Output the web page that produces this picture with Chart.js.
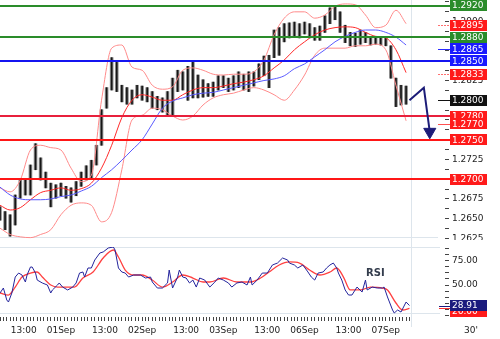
<!DOCTYPE html>
<html>
<head>
<meta charset="utf-8">
<title>Chart</title>
<script src="https://cdn.jsdelivr.net/npm/chart.js@4.4.1/dist/chart.umd.min.js"></script>
<style>
  html, body { margin:0; padding:0; background:#ffffff; }
  #wrap { position:relative; width:500px; height:339px; overflow:hidden; background:#fff; }
  #main { position:absolute; left:0; top:0; }
  #rsi { position:absolute; left:0; top:240px; }
</style>
</head>
<body>
<div id="wrap">
  <canvas id="main" width="500" height="240"></canvas>
  <canvas id="rsi" width="500" height="99"></canvas>
</div>
<script>
// ================= DATA =================
// price bars (30' bars, one entry every 3 bars), high / low
const BAR_STEP = 3;
const barHigh = [1.2665,1.2659,1.2655,1.2680,1.2699,1.2699,1.2718,1.2745,1.2727,1.2709,
 1.2695,1.2693,1.2695,1.2691,1.2689,1.2697,1.2709,1.2717,1.2724,1.2743,
 1.2788,1.2816,1.2854,1.2848,1.2819,1.2816,1.2813,1.2819,1.2818,1.2816,
 1.2811,1.2805,1.2803,1.2811,1.2828,1.2838,1.2836,1.2843,1.2848,1.2832,
 1.2826,1.2821,1.2823,1.2831,1.2831,1.2828,1.2831,1.2836,1.2833,1.2836,
 1.2836,1.2846,1.2856,1.2857,1.2889,1.2892,1.2897,1.2898,1.2899,1.2897,
 1.2899,1.2897,1.2892,1.2894,1.2907,1.2917,1.2919,1.2912,1.2895,1.2886,
 1.2885,1.2889,1.2886,1.2880,1.2880,1.2879,1.2879,1.2869,1.2828,1.2819,
 1.2818];
const barLow = [1.2648,1.2636,1.2628,1.2642,1.2676,1.2680,1.2680,1.2712,1.2699,1.2689,
 1.2665,1.2676,1.2679,1.2676,1.2671,1.2679,1.2691,1.2699,1.2702,1.2718,
 1.2743,1.2790,1.2813,1.2811,1.2798,1.2795,1.2795,1.2803,1.2800,1.2798,
 1.2790,1.2788,1.2785,1.2781,1.2781,1.2811,1.2813,1.2800,1.2803,1.2803,
 1.2804,1.2805,1.2805,1.2813,1.2816,1.2811,1.2813,1.2816,1.2813,1.2811,
 1.2818,1.2826,1.2831,1.2816,1.2854,1.2857,1.2874,1.2879,1.2881,1.2879,
 1.2884,1.2879,1.2876,1.2876,1.2886,1.2897,1.2902,1.2886,1.2873,1.2869,
 1.2868,1.2871,1.2873,1.2870,1.2871,1.2870,1.2869,1.2828,1.2792,1.2794,
 1.2795];

// Bollinger bands and moving average (one entry every 6 bars)
const BAND_STEP = 6;
const bandUpper = [1.2689,1.2684,1.2699,1.2737,1.2743,1.2740,1.2737,1.2714,1.2697,1.2705,
 1.2800,1.2866,1.2870,1.2842,1.2838,1.2819,1.2814,1.2817,1.2838,1.2841,
 1.2838,1.2833,1.2832,1.2833,1.2833,1.2836,1.2851,1.2883,1.2904,1.2912,
 1.2912,1.2904,1.2908,1.2919,1.2922,1.2921,1.2908,1.2892,1.2895,1.2914,
 1.2897];
const bandMid = [1.2667,1.2661,1.2664,1.2674,1.2683,1.2686,1.2689,1.2686,1.2688,1.2695,
 1.2714,1.2743,1.2778,1.2800,1.2807,1.2804,1.2800,1.2800,1.2807,1.2813,
 1.2816,1.2816,1.2818,1.2821,1.2823,1.2826,1.2831,1.2841,1.2851,1.2864,
 1.2874,1.2883,1.2889,1.2892,1.2893,1.2892,1.2886,1.2881,1.2879,1.2864,
 1.2835];
const bandLower = [1.2638,1.2630,1.2627,1.2626,1.2630,1.2636,1.2655,1.2667,1.2670,1.2667,
 1.2646,1.2658,1.2712,1.2775,1.2781,1.2790,1.2788,1.2780,1.2775,1.2780,
 1.2794,1.2803,1.2807,1.2809,1.2813,1.2816,1.2813,1.2807,1.2800,1.2813,
 1.2832,1.2857,1.2866,1.2866,1.2866,1.2869,1.2869,1.2871,1.2864,1.2819,
 1.2774];
const maLine = [1.2690,1.2680,1.2675,1.2674,1.2674,1.2675,1.2678,1.2680,1.2685,1.2691,
 1.2702,1.2712,1.2724,1.2737,1.2750,1.2770,1.2790,1.2799,1.2803,1.2807,
 1.2809,1.2810,1.2813,1.2816,1.2819,1.2822,1.2825,1.2827,1.2831,1.2840,
 1.2846,1.2855,1.2864,1.2874,1.2881,1.2886,1.2889,1.2889,1.2886,1.2880,
 1.2870];

// forecast arrow (bar index, price)
const forecastIdx = [242, 250.5, 254];
const forecastVal = [1.2800, 1.2816, 1.2760];

// horizontal support / resistance levels
const levelVals   = [1.2920, 1.2880, 1.2850, 1.2780, 1.2750, 1.2700];
const levelColors = ['#2a8c2a','#2a8c2a','#1414f0','#e8203c','#ff1616','#ff1616'];

// right-side value boxes
const boxVals   = [1.2920, 1.2895, 1.2880, 1.2865, 1.2850, 1.2833, 1.2800, 1.2780, 1.2770, 1.2750, 1.2700];
const boxColors = ['#2a8c2a','#ff1a1a','#2a8c2a','#1a1aff','#1a1aff','#ff1a1a','#111111','#ff1a1a','#ff1a1a','#ff1a1a','#ff1a1a'];
// indicator stubs (current indicator values)
const stubVals   = [1.2895, 1.2865, 1.2833, 1.2800, 1.2770];
const stubColors = ['#ff7070','#2a2aff','#ff7070','#111111','#ff5050'];
const stubDashed = [true, false, true, false, false];

// price axis labels
const priceTicks = [1.2625,1.2650,1.2675,1.2700,1.2725,1.2750,1.2775,1.2800,1.2825,1.2850,1.2875,1.2900,1.2925];

// RSI (bar index, value)
const rsiIdx = [0,2,4,5,7,9,11,13,15,16,18,19,21,22,25,28,30,31,34,35,37,40,43,45,47,49,50,52,54,56,
 59,61,64,67,68,70,72,74,76,79,83,86,89,90,93,96,99,100,102,105,106,108,110,112,114,116,118,121,124,127,
 129,132,135,137,140,143,146,148,149,152,155,158,161,164,167,170,171,174,176,179,182,184,186,188,191,193,195,197,199,200,
 202,204,206,208,211,214,216,217,220,223,226,227,229,232,233,235,237,240,242];
const rsiVal = [41.8,46.9,34.6,32.5,41.8,58.2,62.3,60.3,53.1,60.3,68.5,68.5,62.3,55.1,52.1,50,41.8,44.9,50,52.1,
 47.9,44.9,47.9,52.1,62.3,63.4,58.2,67.5,67.5,75.7,82.9,84.0,88.1,89.1,86.0,67.5,63.4,62.3,58.2,60.3,
 60.3,57.2,58.2,53.1,46.9,46.9,52.1,65.4,46.9,58.2,65.4,58.2,57.2,52.1,55.1,47.9,57.2,55.1,47.9,53.1,
 57.2,55.1,52.1,47.9,52.1,53.1,50,58.2,50,55.1,62.3,62.3,70.6,72.6,77.8,75.7,72.6,70.6,67.5,70.6,
 63.4,58.2,55.1,62.3,63.4,67.5,70.6,72.6,67.5,62.3,55.1,44.9,39.7,39.7,47.9,42.8,55.1,44.9,47.9,46.9,
 46.9,47.9,37.7,24.3,21.2,24.3,22.2,32.5,28.91];
const rsiMaIdx = [0,5,9,13,18,22,25,30,34,40,44,49,55,61,67,70,74,79,84,90,96,102,108,114,120,124,132,140,148,154,
 159,165,171,177,183,189,195,199,203,207,213,219,226,229,234,238,242];
const rsiMaVal = [41.8,39.7,47.9,58.2,62.3,63.4,58.2,50,47.9,47.9,47.9,57.2,63.4,77.8,86.0,78.8,65.4,60.3,60.3,55.1,
 47.9,53.1,60.3,57.2,53.1,53.1,57.2,53.1,53.1,57.2,63.4,70.6,73.7,72.6,65.4,60.3,63.4,67.5,58.2,44.9,
 44.9,47.9,46.9,44.9,31.5,24.3,26.0];
const rsiTicks = [25, 50, 75];

// time axis
const timeTickIdx   = [14, 36, 62, 84, 110, 132, 158, 180, 206, 228];
const timeTickLabel = ['13:00','01Sep','13:00','02Sep','13:00','03Sep','13:00','06Sep','13:00','07Sep'];
const lastBarIdx = 242;
const nowIdx = 242.8;
const timeframeLabel = "30'";

// ================= CHARTS =================
const FONT = '"DejaVu Sans", Verdana, sans-serif';
Chart.defaults.font.family = FONT;
Chart.defaults.font.size = 9;
Chart.defaults.color = '#222';
Chart.defaults.animation = false;

const X_MAX = 263;
const AXIS_W = 55;

const pts = (idx, vals) => idx.map((x, j) => ({x, y: vals[j]}));
const bandIdx = bandMid.map((_, j) => j * BAND_STEP);
const barIdx = barHigh.map((_, j) => j * BAR_STEP);
const barData = barIdx.map((x, j) => ({x, y: [barLow[j], barHigh[j]]}));

function rightAxisFit(s) { s.width = AXIS_W; s.paddingTop = 0; s.paddingBottom = 0; }

function drawBox(ctx, x, yPix, color, text) {
  ctx.fillStyle = color;
  ctx.fillRect(x, Math.round(yPix - 5.5), 37, 11);
  ctx.fillStyle = '#ffffff';
  ctx.font = '9px ' + FONT;
  ctx.textAlign = 'left';
  ctx.textBaseline = 'middle';
  ctx.fillText(text, x + 2, yPix + 0.5);
}

const mainDecor = {
  id: 'mainDecor',
  beforeDatasetsDraw(chart) {
    const {ctx, chartArea: a, scales: {x}} = chart;
    ctx.save();
    ctx.strokeStyle = '#dde5ec';
    ctx.lineWidth = 1;
    const nx = Math.round(x.getPixelForValue(nowIdx)) + 0.5;
    ctx.beginPath(); ctx.moveTo(nx, a.top); ctx.lineTo(nx, a.bottom); ctx.stroke();
    ctx.beginPath(); ctx.moveTo(a.left, a.bottom - 2.5); ctx.lineTo(a.right - 7, a.bottom - 2.5); ctx.stroke();
    ctx.restore();
  },
  beforeDatasetDraw(chart, args) {
    if (chart.data.datasets[args.index].label !== 'forecast') return;
    const {ctx, chartArea: a, scales: {y}} = chart;
    ctx.save();
    levelVals.forEach((v, i) => {
      const py = Math.round(y.getPixelForValue(v));
      ctx.strokeStyle = levelColors[i];
      ctx.lineWidth = 2;
      ctx.beginPath(); ctx.moveTo(a.left, py); ctx.lineTo(a.right + 5, py); ctx.stroke();
    });
    ctx.restore();
  },
  afterDraw(chart) {
    const {ctx, chartArea: a, scales: {y}} = chart;
    ctx.save();
    stubVals.forEach((v, i) => {
      const py = Math.round(y.getPixelForValue(v)) + 0.5;
      ctx.strokeStyle = stubColors[i];
      ctx.lineWidth = 1;
      ctx.setLineDash(stubDashed[i] ? [2, 1] : []);
      ctx.beginPath(); ctx.moveTo(a.right - 7, py); ctx.lineTo(a.right + 5, py); ctx.stroke();
    });
    ctx.setLineDash([]);
    boxVals.forEach((v, i) => drawBox(ctx, a.right + 5, y.getPixelForValue(v), boxColors[i], v.toFixed(4)));
    ctx.restore();
  }
};

const lineDs = (label, data, color, order, extra) => Object.assign({
  type: 'line', label, data, borderColor: color, borderWidth: 1, pointRadius: 0,
  tension: 0.4, cubicInterpolationMode: 'monotone', fill: false, order
}, extra || {});

new Chart(document.getElementById('main'), {
  type: 'line',
  data: {
    datasets: [
      {type: 'bar', label: 'priceBody', data: barData,
       backgroundColor: '#8e8e8e', barThickness: 3, order: 10},
      {type: 'bar', label: 'priceWick', data: barData,
       backgroundColor: '#161616', barThickness: 1, order: 9},
      lineDs('upper', pts(bandIdx, bandUpper), '#ff8a8a', 4),
      lineDs('lower', pts(bandIdx, bandLower), '#ff8a8a', 4),
      lineDs('mid', pts(bandIdx, bandMid), '#ff2a2a', 3),
      lineDs('ma', pts(bandIdx, maLine), '#5a5aff', 2),
      lineDs('forecast', pts(forecastIdx, forecastVal), '#1c1c78', 0, {
        borderWidth: 2, tension: 0, cubicInterpolationMode: 'default',
        pointRadius: [0, 0, 7], pointStyle: 'triangle', pointRotation: 180,
        pointBackgroundColor: '#1c1c78', pointBorderColor: '#1c1c78', pointBorderWidth: 1
      })
    ]
  },
  options: {
    responsive: false, animation: false, events: [],
    layout: {padding: 0, autoPadding: false},
    datasets: {bar: {grouped: false}},
    plugins: {legend: {display: false}, tooltip: {enabled: false}},
    scales: {
      x: {type: 'linear', min: 0, max: X_MAX, display: false, offset: false},
      y: {
        position: 'right', min: 1.2623, max: 1.2927, bounds: 'data',
        afterFit: rightAxisFit,
        afterBuildTicks(s) {
          const t = [];
          priceTicks.forEach((v, i) => {
            t.push({value: v});
            if (i < priceTicks.length - 1) t.push({value: (v + priceTicks[i + 1]) / 2});
          });
          s.ticks = t;
        },
        border: {display: false},
        grid: {drawOnChartArea: false, drawTicks: true, tickLength: 4, color: '#444'},
        ticks: {autoSkip: false, padding: 3, color: '#222',
          callback: (v) => priceTicks.some(p => Math.abs(p - v) < 1e-7) ? Number(v).toFixed(4) : ''}
      }
    }
  },
  plugins: [mainDecor]
});

const rsiDecor = {
  id: 'rsiDecor',
  beforeDatasetsDraw(chart) {
    const {ctx, chartArea: a, scales: {x}} = chart;
    ctx.save();
    ctx.strokeStyle = '#dde5ec';
    ctx.lineWidth = 1;
    const nx = Math.round(x.getPixelForValue(nowIdx)) + 0.5;
    ctx.beginPath(); ctx.moveTo(nx, 0); ctx.lineTo(nx, a.bottom + 10); ctx.stroke();
    ctx.beginPath(); ctx.moveTo(a.left, a.top + 0.5); ctx.lineTo(a.right - 5, a.top + 0.5); ctx.stroke();
    ctx.beginPath(); ctx.moveTo(a.left, a.bottom - 3.5); ctx.lineTo(a.right - 5, a.bottom - 3.5); ctx.stroke();
    ctx.fillStyle = '#333c4c';
    ctx.font = 'bold 10px ' + FONT;
    ctx.textBaseline = 'middle';
    ctx.textAlign = 'left';
    ctx.fillText('RSI', 366, 33);
    ctx.restore();
  },
  afterDraw(chart) {
    const {ctx, chartArea: a, scales: {y}} = chart;
    ctx.save();
    const lastRsi = rsiVal[rsiVal.length - 1];
    const lastMa = rsiMaVal[rsiMaVal.length - 1];
    [[lastMa, '#ff3030'], [lastRsi, '#1b1b7d']].forEach(([v, c]) => {
      const py = Math.round(y.getPixelForValue(v)) + 0.5;
      ctx.strokeStyle = c; ctx.lineWidth = 1;
      ctx.beginPath(); ctx.moveTo(a.right - 6, py); ctx.lineTo(a.right + 5, py); ctx.stroke();
    });
    drawBox(ctx, a.right + 5, y.getPixelForValue(lastMa) + 3, '#ff1a1a', lastMa.toFixed(2));
    drawBox(ctx, a.right + 5, y.getPixelForValue(lastRsi), '#1b1b7d', lastRsi.toFixed(2));
    ctx.fillStyle = '#222';
    ctx.font = '9px ' + FONT;
    ctx.textAlign = 'left';
    ctx.textBaseline = 'middle';
    ctx.fillText(timeframeLabel, 464, 90.5);
    ctx.restore();
  }
};

new Chart(document.getElementById('rsi'), {
  type: 'line',
  data: {
    datasets: [
      lineDs('rsiMa', pts(rsiMaIdx, rsiMaVal), '#ff4040', 2, {borderWidth: 1.3}),
      lineDs('rsi', pts(rsiIdx, rsiVal), '#24249c', 1, {tension: 0, cubicInterpolationMode: 'default'})
    ]
  },
  options: {
    responsive: false, animation: false, events: [],
    layout: {padding: {top: 7, left: 0, right: 0, bottom: 0}, autoPadding: false},
    plugins: {legend: {display: false}, tooltip: {enabled: false}},
    scales: {
      x: {
        type: 'linear', min: 0, max: X_MAX, offset: false,
        afterFit(s) { s.height = 22; s.paddingLeft = 0; s.paddingRight = 0; },
        afterBuildTicks(s) {
          const t = [];
          for (let i = 0; i <= lastBarIdx; i += 2) t.push({value: i});
          s.ticks = t;
        },
        border: {display: false},
        grid: {drawOnChartArea: false, drawTicks: true, tickLength: 4, color: '#444'},
        ticks: {autoSkip: false, maxRotation: 0, minRotation: 0, padding: 4, color: '#222',
          callback: (v) => { const k = timeTickIdx.indexOf(v); return k >= 0 ? timeTickLabel[k] : ''; }}
      },
      y: {
        position: 'right', min: 17.1, max: 89.1, bounds: 'data',
        afterFit: rightAxisFit,
        afterBuildTicks(s) {
          const t = [];
          for (let v = 18.75; v <= 88; v += 6.25) t.push({value: v});
          s.ticks = t;
        },
        border: {display: false},
        grid: {drawOnChartArea: false, drawTicks: true, tickLength: 4, color: '#444'},
        ticks: {autoSkip: false, padding: 3, color: '#222',
          callback: (v) => rsiTicks.some(p => Math.abs(p - v) < 1e-7) ? Number(v).toFixed(2) : ''}
      }
    }
  },
  plugins: [rsiDecor]
});
</script>
</body>
</html>
